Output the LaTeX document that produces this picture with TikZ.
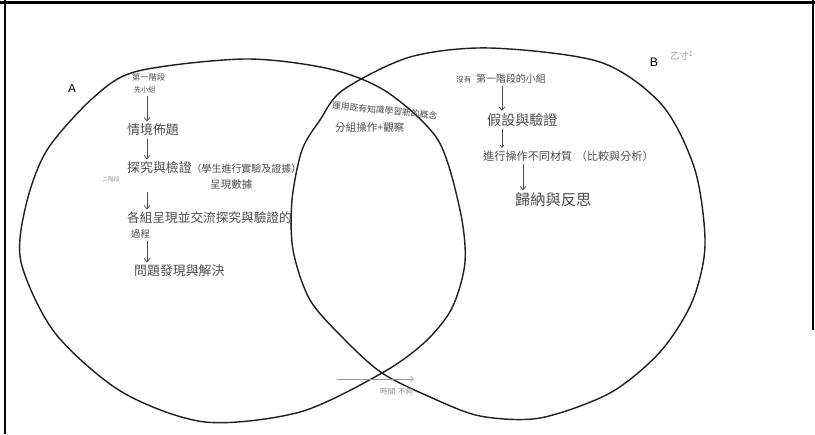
\documentclass[tikz,border=0pt]{standalone}
\usepackage{fontspec}
\setmainfont{Liberation Sans}
\newfontfamily\cjk{Noto Sans CJK TC}
\usepackage{tikz}
\usetikzlibrary{arrows.meta,positioning,calc}
\definecolor{penGray}{RGB}{75,75,75}
\definecolor{faintGray}{RGB}{150,150,150}
\newcommand{\penfont}[1]{\cjk\fontsize{#1}{#1}\selectfont}

\begin{document}
\begin{tikzpicture}[
    x=0.03cm, y=-0.03cm, >={Straight Barb[length=3pt,width=5pt]},
    pen/.style={text=penGray, inner sep=0pt, anchor=west},
    flow/.style={->, draw=penGray, semithick, shorten <=2pt, shorten >=2pt},
    rim/.style={draw=black!88, line width=1.2pt}
  ]
  \useasboundingbox (0,0) rectangle (815,434);
  % Frame
  \draw[line width=2.5pt] (0,2.5) -- (815,2.5);
  \draw[line width=2.5pt] (5,0) -- (5,434);
  \draw[line width=2pt] (813,0) -- (813,330);
  % Circles
  \draw[rim] plot[smooth cycle] coordinates {(21,262) (26,205) (47,150)
    (94,97) (138,71) (245,59) (330,69) (387,92) (438,140) (460,210)
    (465,262) (452,308) (425,342) (382,373) (300,412) (205,422)
    (122,392) (55,333)};
  \draw[rim] plot[smooth cycle] coordinates {(490,48) (600,62) (662,105)
    (695,170) (705,245) (692,302) (660,352) (610,393) (540,418)
    (480,416) (430,397) (382,373) (345,340) (310,300) (293,250)
    (292,200) (302,150) (320,120) (343,90) (410,57)};
  \node[font=\fontsize{10}{10}\selectfont] (lblA) at (72,88) {A};
  \node[font=\fontsize{10.5}{10.5}\selectfont] (lblB) at (654,62) {B};
  \node[pen, text=faintGray, font=\penfont{8}] (mark) at (670,56)
    {乙寸\textsuperscript{1}};
  % Group A
  \coordinate (colA) at (147,0);
  \node[pen, font=\penfont{7}] (stageA) at (132,77) {第一階段};
  \node[pen, font=\penfont{6}] (groupA) at (134,90) {先小組};
  \node[pen, font=\penfont{11}] (scene) at (127,130) {情境佈題};
  \node[pen, font=\penfont{11}] (probe) at (127,168)
    {探究與檢證{\penfont{8.5}（學生進行實驗及證據）}};
  \node[pen, font=\penfont{9}] (data) at (210,185) {呈現數據};
  \node[pen, text=faintGray, font=\penfont{5}] (note) at (102,179) {二階段};
  \node[pen, font=\penfont{10.8}] (share) at (127,218) {各組呈現並交流探究與驗證的};
  \node[pen, font=\penfont{8}] (share2) at (131,234) {過程};
  \node[pen, font=\penfont{11}] (solve) at (134,271) {問題發現與解決};
  \draw[flow] (groupA.south -| colA) -- (scene.north -| colA);
  \draw[flow] (scene.south -| colA) -- (probe.north -| colA);
  \draw[flow] (data.south -| colA) -- (share.north -| colA);
  \draw[flow] (share2.south -| colA) -- (solve.north -| colA);
  % Shared part
  \node[pen, font=\penfont{7.5}, rotate=-6] (reuse) at (332,105)
    {運用既有知識學習新的概念};
  \node[pen, font=\penfont{9}] (team) at (335,127) {分組操作+觀察};
  % Group B
  \coordinate (colB) at (502,0);
  \coordinate (colC) at (523,0);
  \node[pen, font=\penfont{8.5}] (noStage) at (456,79)
    {{\penfont{6.5}沒有}\hspace{4pt}第一階段的小組};
  \node[pen, font=\penfont{12}] (guess) at (487,120) {假設與驗證};
  \node[pen, font=\penfont{9.5}] (test) at (483,156)
    {進行操作不同材質\hspace{3pt}（比較與分析）};
  \node[pen, font=\penfont{13}] (reflect) at (515,200) {歸納與反思};
  \draw[flow] (noStage.south -| colB) -- (guess.north -| colB);
  \draw[flow, >={Straight Barb[length=2pt,width=3pt]}]
    (guess.south -| colB) -- (test.north -| colB);
  \draw[flow] (test.south -| colC) -- (reflect.north -| colC);
  % Note at the bottom
  \coordinate (tailStart) at (337,379);
  \coordinate (tailEnd) at (414,379);
  \draw[->, faintGray, thin] (tailStart) -- (tailEnd);
  \node[pen, text=faintGray, font=\penfont{6.5}] (timeNote) at (380,392)
    {時間\hspace{2pt}不夠};
\end{tikzpicture}
\end{document}
